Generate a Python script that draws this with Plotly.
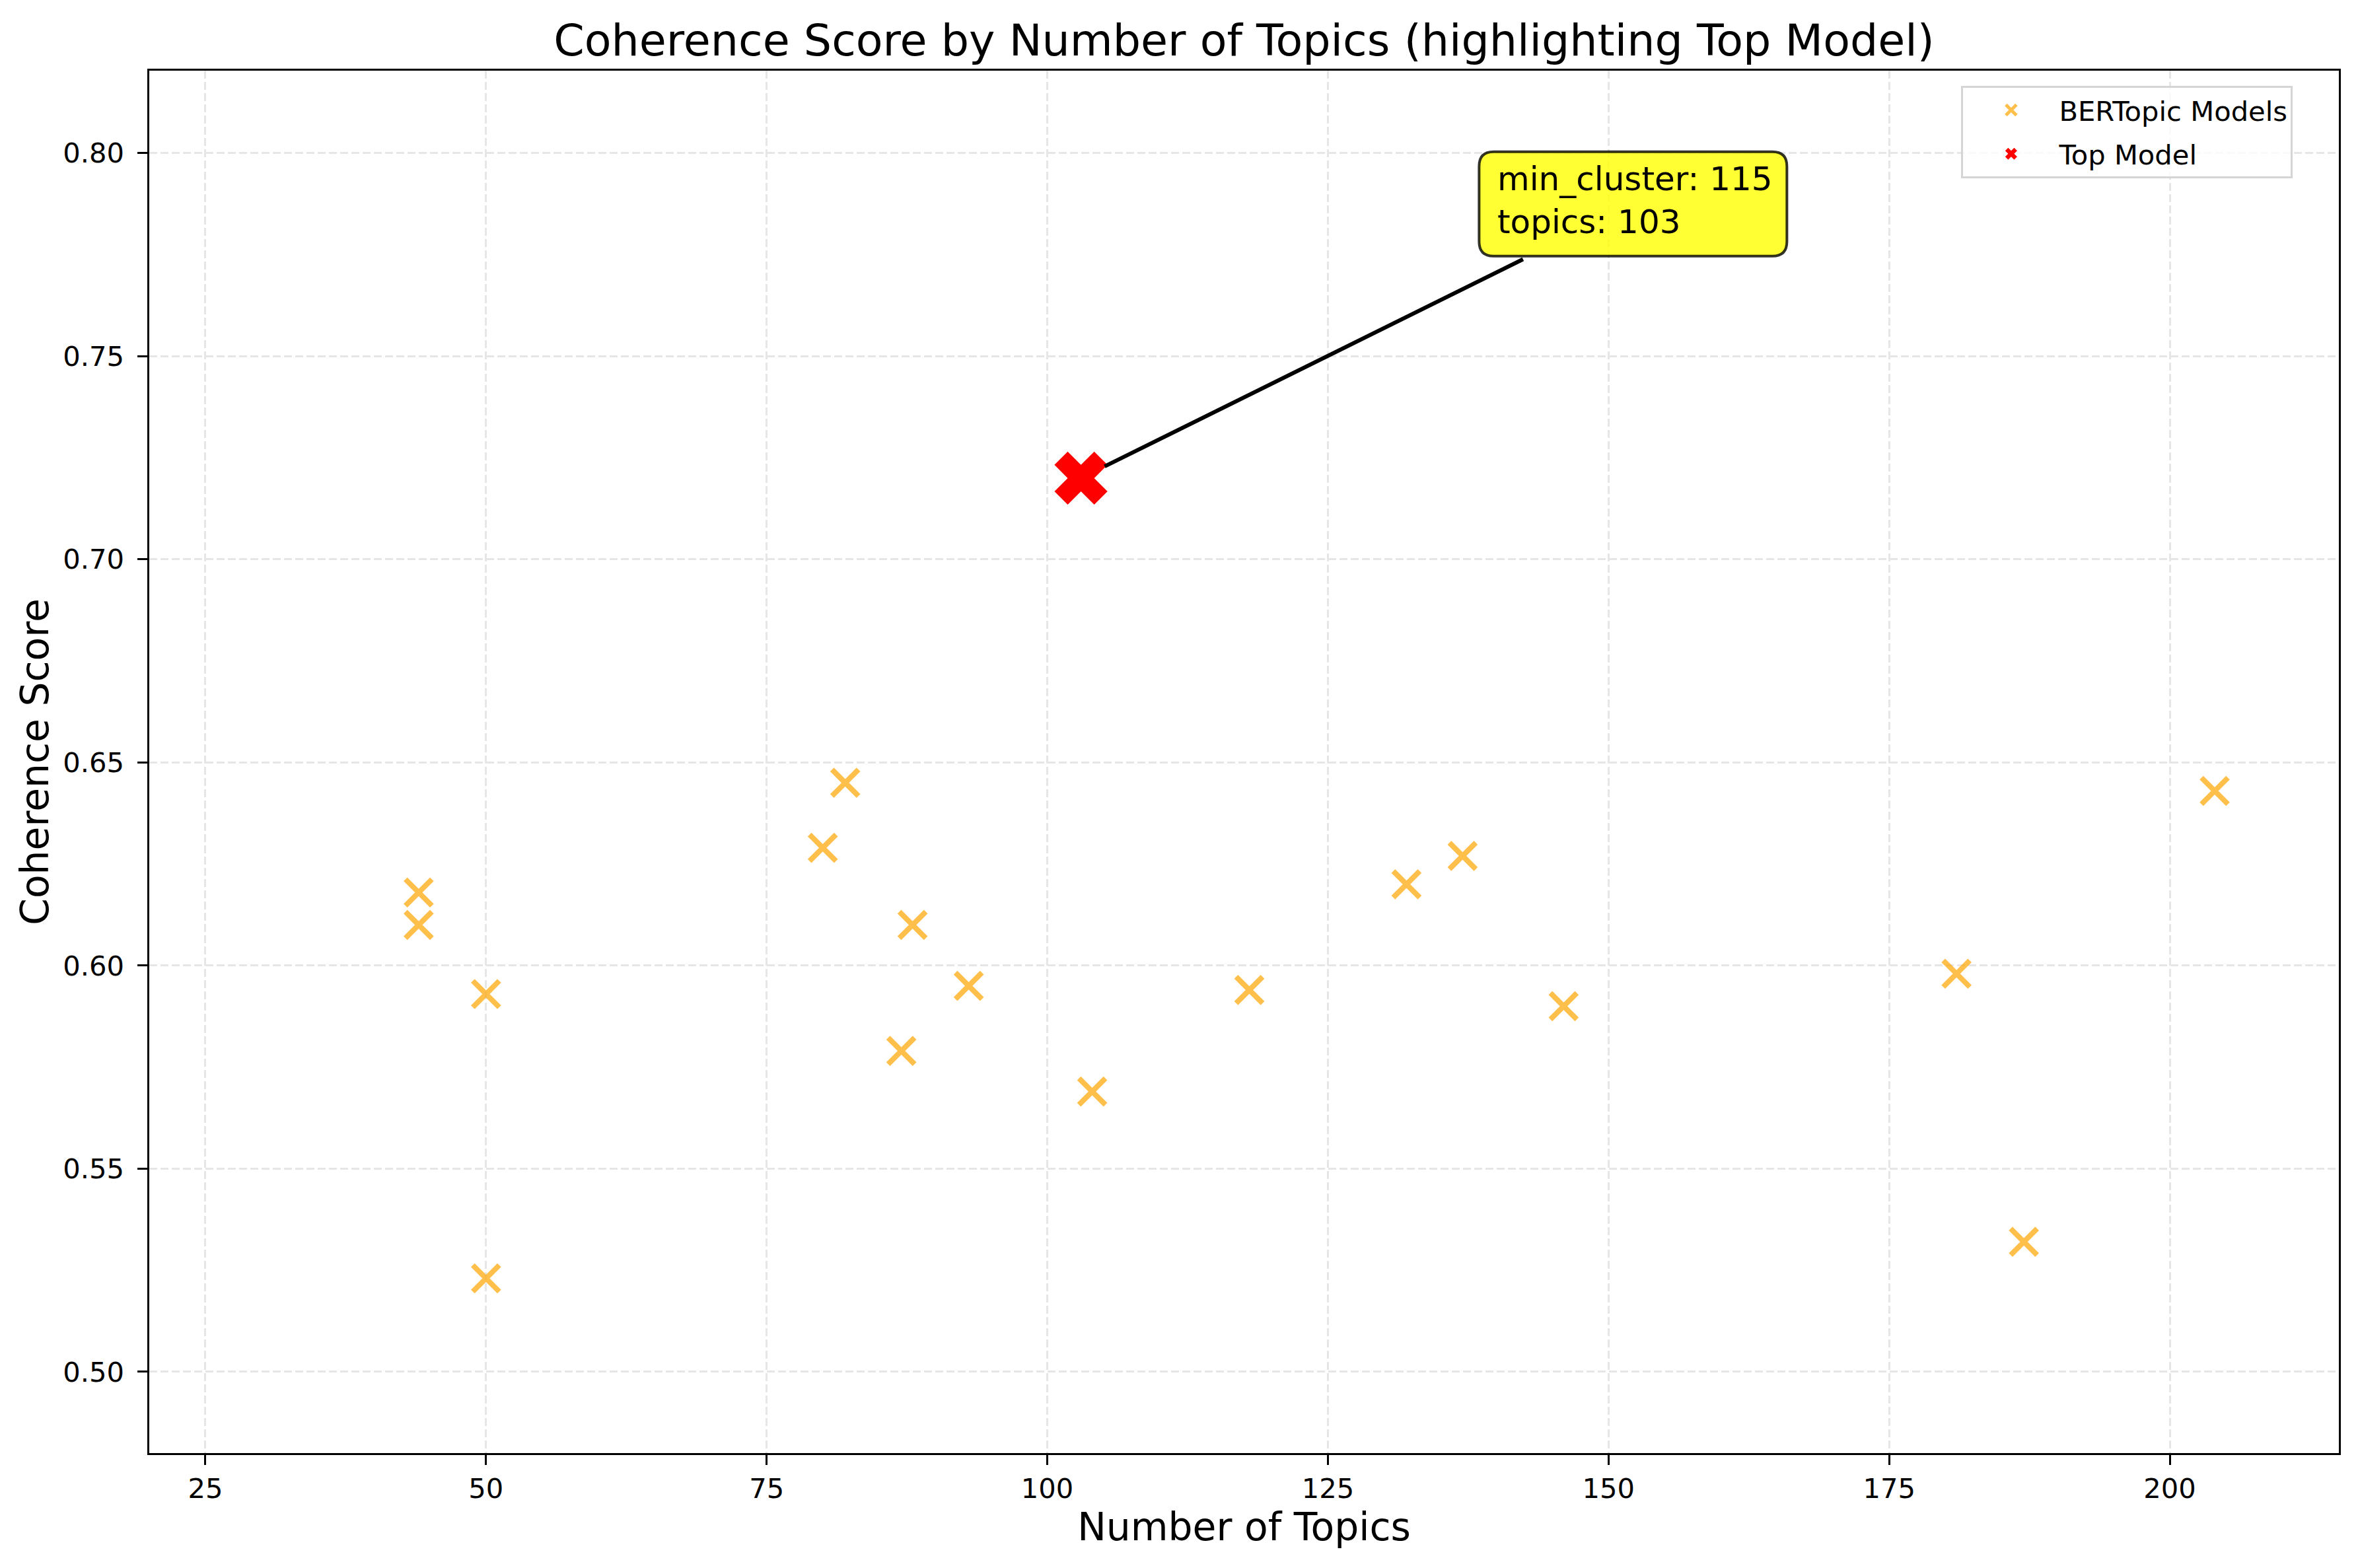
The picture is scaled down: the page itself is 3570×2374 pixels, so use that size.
import plotly.graph_objects as go

# ---- data ----
num_topics = [44, 44, 50, 50, 80, 82, 87, 88, 93, 103, 104, 118, 132, 137, 146, 181, 187, 204]
coherence = [0.618, 0.610, 0.593, 0.523, 0.629, 0.645, 0.579, 0.610, 0.595, 0.720,
             0.569, 0.594, 0.620, 0.627, 0.590, 0.598, 0.532, 0.643]
top_topics = [103]
top_coherence = [0.720]
top_min_cluster = 115
label_xy = (140, 0.78)        # where the annotation text sits (data units)
arrow_tail = (142.47, 0.774)  # where the connector leaves the label box

x_range = [20.0, 215.06]
y_range = [0.48, 0.8203]
x_ticks = [25, 50, 75, 100, 125, 150, 175, 200]
y_ticks = [0.50, 0.55, 0.60, 0.65, 0.70, 0.75, 0.80]

W, H = 3570, 2374
ML, MR, MT, MB = 226, 29, 107, 174
FONT = "DejaVu Sans"
PT = 300 / 72.0

fig = go.Figure()
fig.add_trace(go.Scatter(
    x=num_topics, y=coherence, mode="markers", name="BERTopic Models", legendgroup="a",
    marker=dict(symbol="x-thin", size=40, color="orange", opacity=0.7,
                line=dict(width=8, color="orange")),
))
fig.add_trace(go.Scatter(
    x=top_topics, y=top_coherence, mode="markers", name="Top Model", legendgroup="b",
    marker=dict(symbol="x", size=71, color="red", line=dict(width=0)),
))

# rounded label box (pixel offsets around the text anchor)
L, R, T, B, r = -26, 440, 125, -33, 22
path = (f"M{L+r},{B} L{R-r},{B} Q{R},{B} {R},{B+r} L{R},{T-r} Q{R},{T} {R-r},{T} "
        f"L{L+r},{T} Q{L},{T} {L},{T-r} L{L},{B+r} Q{L},{B} {L+r},{B} Z")
fig.add_shape(type="path", xref="x", yref="y", xsizemode="pixel", ysizemode="pixel",
              xanchor=label_xy[0], yanchor=label_xy[1], path=path,
              fillcolor="rgba(255,255,0,0.8)", line=dict(color="rgba(0,0,0,0.8)", width=4))

fig.add_annotation(x=top_topics[0], y=top_coherence[0], ax=arrow_tail[0], ay=arrow_tail[1],
                   axref="x", ayref="y", xref="x", yref="y", text="", showarrow=True,
                   arrowhead=0, arrowwidth=6, arrowcolor="black", standoff=40)
fig.add_annotation(x=label_xy[0], y=label_xy[1], xref="x", yref="y",
                   text=f"min_cluster: {top_min_cluster}<br>topics: {top_topics[0]}",
                   showarrow=False, xanchor="left", yanchor="bottom", align="left",
                   yshift=-12, font=dict(family=FONT, size=12 * PT, color="black"))

axis_common = dict(
    showline=True, linecolor="black", linewidth=3.3, mirror=True,
    ticks="outside", ticklen=14.6, tickwidth=3.3, tickcolor="black",
    showgrid=True, gridcolor="#e6e6e6", gridwidth=3.3, griddash="12px,5px",
    zeroline=False, tickfont=dict(family=FONT, size=10 * PT, color="black"),
)
fig.update_xaxes(range=x_range, tickvals=x_ticks, ticktext=[str(v) for v in x_ticks],
                 ticklabelstandoff=0,
                 title=dict(text="Number of Topics", font=dict(family=FONT, size=14 * PT, color="black"),
                            standoff=10), **axis_common)
fig.update_yaxes(range=y_range, tickvals=y_ticks, ticktext=[f"{v:.2f}" for v in y_ticks],
                 ticklabelstandoff=12,
                 title=dict(text="Coherence Score", font=dict(family=FONT, size=14 * PT, color="black"),
                            standoff=3), **axis_common)

fig.update_layout(
    width=W, height=H, autosize=False,
    margin=dict(l=ML, r=MR, t=MT, b=MB, pad=0),
    paper_bgcolor="white", plot_bgcolor="white",
    title=dict(text="Coherence Score by Number of Topics (highlighting Top Model)",
               x=0.5, xref="paper", xanchor="center", y=1 - 61 / H, yref="container", yanchor="middle",
               font=dict(family=FONT, size=16 * PT, color="black")),
    font=dict(family=FONT, color="black"),
    legend=dict(x=0.979, y=0.989, xanchor="right", yanchor="top",
                bgcolor="rgba(255,255,255,0.8)", bordercolor="#d5d5d5", borderwidth=3,
                font=dict(family=FONT, size=10 * PT, color="black"),
                itemsizing="trace", itemwidth=135, tracegroupgap=9),
    showlegend=True,
)

fig.write_html("out.html", post_script="document.body.style.margin='0';",
               config={"displayModeBar": False})
